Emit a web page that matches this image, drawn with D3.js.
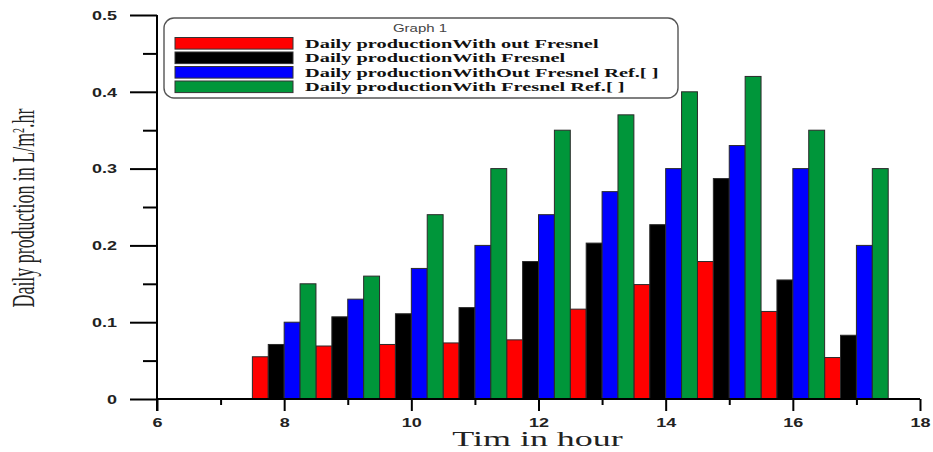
<!DOCTYPE html>
<html>
<head>
<meta charset="utf-8">
<script src="https://cdn.jsdelivr.net/npm/d3@7"></script>
<style>
  html, body { margin: 0; padding: 0; background: #fff; }
  svg { display: block; }
</style>
</head>
<body>
<svg id="chart" width="933" height="452"></svg>
<script>
// Hourly production data (L/m².hr)
const hours = [8, 9, 10, 11, 12, 13, 14, 15, 16, 17];
const withoutFresnel    = [0.055, 0.069, 0.071, 0.073, 0.077, 0.117, 0.149, 0.179, 0.114, 0.054];
const withFresnel       = [0.071, 0.107, 0.111, 0.119, 0.179, 0.203, 0.227, 0.287, 0.155, 0.083];
const withoutFresnelRef = [0.10, 0.13, 0.17, 0.20, 0.24, 0.27, 0.30, 0.33, 0.30, 0.20];
const withFresnelRef    = [0.15, 0.16, 0.24, 0.30, 0.35, 0.37, 0.40, 0.42, 0.35, 0.30];

const seriesNames = [
  "Daily productionWith out Fresnel",
  "Daily productionWith Fresnel",
  "Daily productionWithOut Fresnel Ref.[ ]",
  "Daily productionWith Fresnel Ref.[ ]"
];
const seriesColors = ["#ff0000", "#000000", "#0000ff", "#00963a"];
const seriesValues = [withoutFresnel, withFresnel, withoutFresnelRef, withFresnelRef];

const xTicks = [6, 8, 10, 12, 14, 16, 18];
const yTicks = [0, 0.1, 0.2, 0.3, 0.4, 0.5];
const legendTitle = "Graph 1";
const xTitle = "Tim in hour";

// Text in this chart is drawn horizontally widened
const SX = 1.5;

const svg = d3.select("#chart");

const x = d3.scaleLinear().domain([6, 18]).range([157, 920]);
const y = d3.scaleLinear().domain([0, 0.5]).range([399, 15]);

// Bars: four series side by side, each a quarter hour wide, grouped around the hour
const barW = 0.25;
const bars = svg.append("g");
seriesValues.forEach((vals, si) => {
  bars.selectAll(null)
    .data(hours.map((h, i) => ({ h, v: vals[i] })))
    .join("rect")
    .attr("x", d => x(d.h - 0.5 + si * barW))
    .attr("width", d => x(d.h - 0.5 + (si + 1) * barW) - x(d.h - 0.5 + si * barW))
    .attr("y", d => y(d.v))
    .attr("height", d => y(0) - y(d.v))
    .attr("fill", seriesColors[si])
    .attr("stroke", "#2a2a2a")
    .attr("stroke-width", 1);
});

const labelFont = "'Liberation Sans', Arial, sans-serif";

// Y axis: long major ticks, short minor ticks, pointing left
const yAxisG = svg.append("g").attr("transform", `translate(${x(6)},0)`);
yAxisG.call(d3.axisLeft(y).tickValues(d3.range(0.05, 0.5, 0.1)).tickSize(14).tickFormat(""));
yAxisG.call(g => g.select(".domain").remove());
const yMajor = svg.append("g").attr("transform", `translate(${x(6)},0)`)
  .call(d3.axisLeft(y).tickValues(yTicks).tickSize(27).tickPadding(0)
        .tickFormat(d => d === 0 ? "0" : d3.format(".1f")(d)));
yMajor.select(".domain").remove();
yMajor.selectAll(".tick text")
  .attr("x", -40 / SX)
  .attr("dy", "0.36em")
  .attr("transform", `scale(${SX},1)`)
  .attr("font-family", labelFont)
  .attr("font-weight", "bold")
  .attr("font-size", 12)
  .attr("fill", "#222");

// X axis: major ticks every two hours, minor ticks between, pointing down
const xMinor = svg.append("g").attr("transform", `translate(0,${y(0)})`)
  .call(d3.axisBottom(x).tickValues(d3.range(7, 18, 2)).tickSize(6).tickFormat(""));
xMinor.select(".domain").remove();
const xMajor = svg.append("g").attr("transform", `translate(0,${y(0)})`)
  .call(d3.axisBottom(x).tickValues(xTicks).tickSize(12).tickPadding(0).tickFormat(d3.format("d")));
xMajor.select(".domain").remove();
xMajor.selectAll(".tick text")
  .attr("y", 19)
  .attr("dy", "0.71em")
  .attr("transform", `scale(${SX},1)`)
  .attr("font-family", labelFont)
  .attr("font-weight", "bold")
  .attr("font-size", 12)
  .attr("fill", "#222");

svg.selectAll(".tick line").attr("stroke", "#000").attr("stroke-width", 2);
svg.selectAll(".tick text").attr("font-size", 12);

// Axis lines
svg.append("line")
  .attr("x1", x(6)).attr("x2", x(6))
  .attr("y1", y(0.5)).attr("y2", y(0) + 12)
  .attr("stroke", "#000").attr("stroke-width", 2);
svg.append("line")
  .attr("x1", x(6)).attr("x2", x(18))
  .attr("y1", y(0)).attr("y2", y(0))
  .attr("stroke", "#000").attr("stroke-width", 2);

// Axis titles
svg.append("text")
  .attr("transform", `translate(${(x(6) + x(18)) / 2 - 1},446) scale(1.8,1)`)
  .attr("text-anchor", "middle")
  .attr("font-family", "'Liberation Serif', 'Times New Roman', serif")
  .attr("font-size", 20)
  .attr("fill", "#222")
  .text(xTitle);

const yTitle = svg.append("text")
  .attr("transform", `translate(34,208) scale(1.75,1) rotate(-90)`)
  .attr("text-anchor", "middle")
  .attr("font-family", "'Liberation Serif', 'Times New Roman', serif")
  .attr("font-size", 18)
  .attr("textLength", 199)
  .attr("lengthAdjust", "spacingAndGlyphs")
  .attr("fill", "#222");
yTitle.append("tspan").text("Daily production in L/m");
yTitle.append("tspan").attr("baseline-shift", "super").attr("font-size", 10).text("2");
yTitle.append("tspan").text(".hr");

// Legend
const legend = svg.append("g");
legend.append("rect")
  .attr("x", 164).attr("y", 18)
  .attr("width", 514).attr("height", 80)
  .attr("rx", 10).attr("ry", 10)
  .attr("fill", "#fff")
  .attr("stroke", "#555")
  .attr("stroke-width", 1.4);
legend.append("text")
  .attr("transform", `translate(420,32) scale(${SX},1)`)
  .attr("text-anchor", "middle")
  .attr("font-family", labelFont)
  .attr("font-size", 10)
  .attr("fill", "#444")
  .text(legendTitle);

const rowY = d3.scaleLinear().domain([0, 3]).range([43.3, 86.8]);
const rows = legend.selectAll(".row")
  .data(seriesNames.map((name, i) => ({ name, color: seriesColors[i], i })))
  .join("g")
  .attr("class", "row")
  .attr("transform", d => `translate(0,${rowY(d.i)})`);
rows.append("rect")
  .attr("x", 175).attr("y", -5.8)
  .attr("width", 118).attr("height", 11.6)
  .attr("fill", d => d.color)
  .attr("stroke", "#333")
  .attr("stroke-width", 1);
rows.append("text")
  .attr("transform", `translate(305,4.2) scale(1.63,1)`)
  .attr("font-family", "'Liberation Serif', 'Times New Roman', serif")
  .attr("font-weight", "bold")
  .attr("font-size", 12.5)
  .attr("fill", "#111")
  .text(d => d.name);
</script>
</body>
</html>
